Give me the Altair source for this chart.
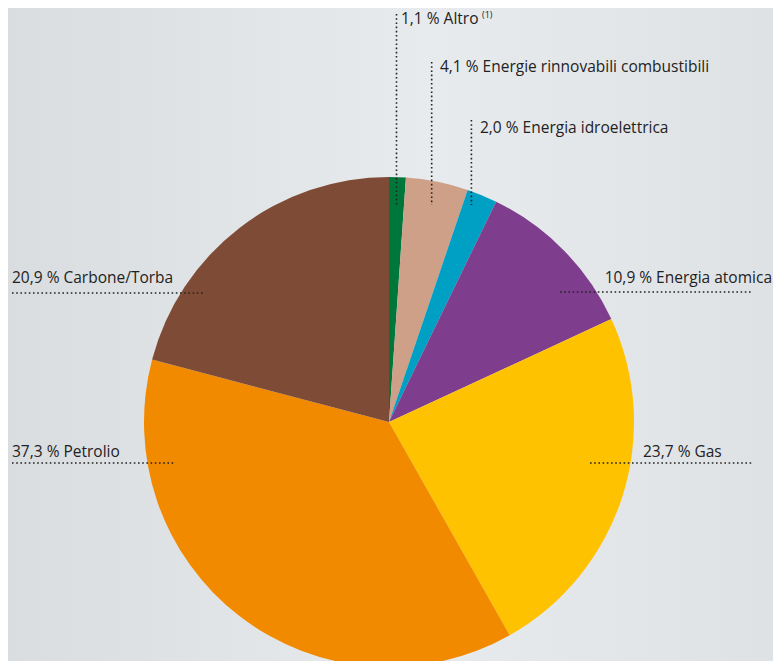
import math
import altair as alt
import pandas as pd

# ---- data ----
labels = ["Altro", "Energie rinnovabili combustibili", "Energia idroelettrica",
          "Energia atomica", "Gas", "Petrolio", "Carbone/Torba"]
values = [1.1, 4.1, 2.0, 10.9, 23.7, 37.3, 20.9]
colors = ["#00773A", "#CFA088", "#009FC4", "#7E3D8D", "#FFC200", "#F28A00", "#7E4C36"]

# ---- layout (chart pixel coordinates) ----
W, H = 765, 653
CX, CY, R = 381, 414, 245
LEADER_R = 217          # radius where vertical leaders meet the slice mid-angle
LEADER_END_Y = 197      # bottom end of the vertical leaders
FONT = "Open Sans"
FS = 15.5

# text x, baseline y, alignment, leader geometry
label_layout = {
    "Altro": dict(tx=393, ty=16, al="left", kind="v", top=6),
    "Energie rinnovabili combustibili": dict(tx=432, ty=64, al="left", kind="v", top=54),
    "Energia idroelettrica": dict(tx=472, ty=125, al="left", kind="v", top=112),
    "Energia atomica": dict(tx=764, ty=275, al="right", kind="h", ly=284, lx0=552, lx1=744),
    "Gas": dict(tx=635, ty=449, al="left", kind="h", ly=455, lx0=582, lx1=744),
    "Petrolio": dict(tx=4, ty=449, al="left", kind="h", ly=455, lx0=4, lx1=166),
    "Carbone/Torba": dict(tx=4, ty=275, al="left", kind="h", ly=285, lx0=4, lx1=195),
}

pie_df = pd.DataFrame({"label": labels, "value": values, "idx": range(len(labels))})

total = sum(values)
rows_text, rows_line = [], []
cum = 0.0
for lab, v in zip(labels, values):
    mid = (cum + v / 2) / total * 2 * math.pi
    cum += v
    L = label_layout[lab]
    txt = f"{v:.1f}".replace(".", ",") + " % " + lab
    rows_text.append({"text": txt, "x": L["tx"], "y": L["ty"], "al": L["al"]})
    if L["kind"] == "v":
        lx = CX + LEADER_R * math.sin(mid)
        rows_line.append({"x0": lx, "x1": lx, "y0": L["top"], "y1": LEADER_END_Y})
    else:
        rows_line.append({"x0": L["lx0"], "x1": L["lx1"], "y0": L["ly"], "y1": L["ly"]})

text_df = pd.DataFrame(rows_text)
line_df = pd.DataFrame(rows_line)
sup_df = pd.DataFrame([{"text": "(1)", "x": 474, "y": 10}])

bg = alt.Chart(alt.Data(values=[{}])).mark_rect(
    color=alt.Gradient(
        gradient="linear",
        stops=[alt.GradientStop(offset=0, color="#D9DDE0"),
               alt.GradientStop(offset=0.55, color="#E8EBEE"),
               alt.GradientStop(offset=1, color="#DFE2E5")],
        x1=0, x2=1, y1=0, y2=0)
).encode(x=alt.value(0), x2=alt.value(W), y=alt.value(0), y2=alt.value(H))

pie = alt.Chart(pie_df).mark_arc(radius=R).encode(
    theta=alt.Theta("value:Q", stack=True),
    order=alt.Order("idx:Q"),
    color=alt.Color("label:N", scale=alt.Scale(domain=labels, range=colors), legend=None),
    x=alt.value(CX), y=alt.value(CY),
)

leaders = alt.Chart(line_df).mark_rule(
    color="#222222", strokeWidth=1.6, strokeDash=[1.6, 2.6]
).encode(
    x=alt.X("x0:Q", scale=None), x2="x1:Q",
    y=alt.Y("y0:Q", scale=None), y2="y1:Q",
)

texts_left = alt.Chart(text_df[text_df.al == "left"]).mark_text(
    align="left", baseline="alphabetic", font=FONT, fontSize=FS, color="#222222"
).encode(x=alt.X("x:Q", scale=None), y=alt.Y("y:Q", scale=None), text="text:N")

texts_right = alt.Chart(text_df[text_df.al == "right"]).mark_text(
    align="right", baseline="alphabetic", font=FONT, fontSize=FS, color="#222222"
).encode(x=alt.X("x:Q", scale=None), y=alt.Y("y:Q", scale=None), text="text:N")

sup = alt.Chart(sup_df).mark_text(
    align="left", baseline="alphabetic", font=FONT, fontSize=9, color="#222222"
).encode(x=alt.X("x:Q", scale=None), y=alt.Y("y:Q", scale=None), text="text:N")

chart = alt.layer(bg, pie, leaders, texts_left, texts_right, sup).properties(
    width=W, height=H, padding=0, autosize="none"
).configure_view(stroke=None).configure(background="#E3E6E9")

chart.save("out.html", embed_options={"renderer": "svg", "actions": False})
